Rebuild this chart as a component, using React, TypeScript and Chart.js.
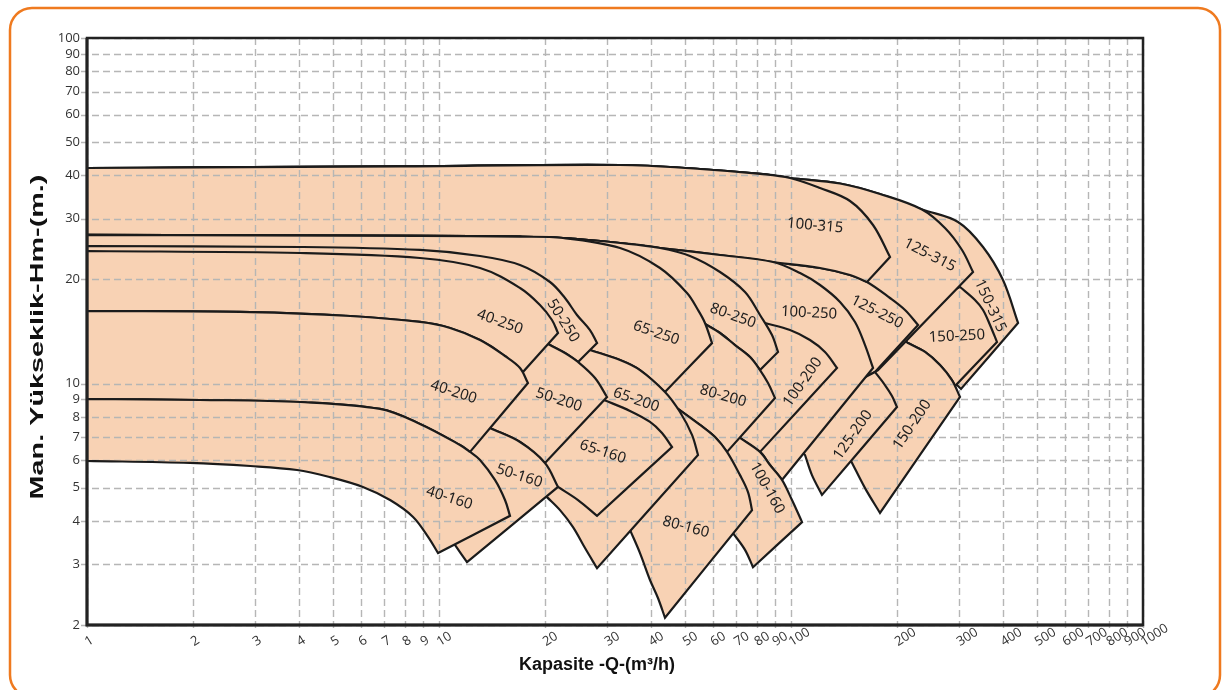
import React, { useEffect, useRef } from "react";
import { Chart, registerables } from "chart.js";

Chart.register(...registerables);

type P = [number, number];

// ---- axis ticks ----
const xTickValues = [1, 2, 3, 4, 5, 6, 7, 8, 9, 10, 20, 30, 40, 50, 60, 70, 80, 90, 100, 200, 300, 400, 500, 600, 700, 800, 900, 1000];
const yTickValues = [2, 3, 4, 5, 6, 7, 8, 9, 10, 20, 30, 40, 50, 60, 70, 80, 90, 100];
const xTitle = "Kapasite -Q-(m³/h)";
const yTitle = "Man. Yükseklik-Hm-(m.)";

// ---- shared curves [Q m3/h, H m] ----
const topH42: P[] = [[1, 42.05], [2.09, 42.2], [7.75, 42.5], [32.68, 42.9], [55.15, 41.77], [81.65, 40.41], [99.35, 39.34]];
const topH27: P[] = [[1, 26.91], [8.83, 26.73], [16.99, 26.6], [22.51, 26.37]];
const topH27mid: P[] = [[32.68, 25.51], [42.45, 24.67]];
const topH27far: P[] = [[62.85, 23.55], [88.89, 22.47]];

// ---- pump regions, each as pieces (curves joined by straight edges) ----
const r40_160: P[][] = [
  [[1, 9.02], [2.09, 8.96], [4.03, 8.84], [6.8, 8.44], [8.83, 7.64], [11.47, 6.64], [12.25, 6.34], [13.08, 6.01], [14.42, 5.26], [15.4, 4.6], [15.91, 4.14]],
  [[9.94, 3.23], [9.31, 3.6], [8.44, 4.11], [7.26, 4.6], [6.08, 5.02], [4.9, 5.36], [3.95, 5.62], [2.91, 5.77], [1.96, 5.89], [1, 5.97]],
];
const r40_200: P[][] = [
  [[1, 16.21], [2.91, 16.1], [5.59, 15.68], [8.83, 15.07], [10.75, 14.48], [13.08, 13.36], [15.4, 12.01], [16.99, 11.09], [17.89, 10.03]],
  [[12.25, 6.34], [11.47, 6.64], [8.83, 7.64], [6.8, 8.44], [4.03, 8.84], [2.09, 8.96], [1, 9.02]],
];
const r40_250: P[][] = [
  [[1, 24.18], [4.03, 23.86], [8.83, 23.08], [13.08, 21.59], [16.99, 18.9], [19.36, 16.88], [20.94, 15.27], [21.78, 14.0]],
  [[17.21, 10.72], [15.4, 12.01], [13.08, 13.36], [10.75, 14.48], [8.83, 15.07], [5.59, 15.68], [2.91, 16.1], [1, 16.21]],
];

const r50_160: P[][] = [
  [[1, 10.23]], [[8.83, 8.67]], [[12.25, 7.84]],
  [[13.96, 7.43], [16.99, 6.77], [20.0, 5.89], [21.78, 5.02]],
  [[12.01, 3.04], [11.1, 3.41]],
  [[9.43, 4.16]], [[4.9, 6.42]], [[1, 7.33]],
];
const r50_200: P[][] = [
  [[1, 18.65]], [[8.83, 17.45]], [[14.91, 15.47]], [[18.13, 13.81]],
  [[20.67, 12.92], [22.8, 12.25], [24.83, 11.54], [27.75, 10.37], [30.01, 9.14]],
  [[20.0, 5.89], [16.99, 6.77], [13.96, 7.43]],
  [[12.25, 7.84]], [[8.83, 8.67]], [[1, 10.23]],
];
const r50_250: P[][] = [
  [[1, 25.0], [4.03, 24.84], [8.83, 24.35], [13.08, 23.39], [16.99, 22.03], [20.67, 19.67], [22.8, 17.68], [24.66, 15.79], [26.85, 14.28], [28.12, 13.09]],
  [[24.83, 11.54], [22.8, 12.25], [20.67, 12.92]],
  [[18.13, 13.81]], [[14.91, 15.47]], [[8.83, 17.45]], [[1, 18.65]],
];

const r65_160: P[][] = [
  [[1, 10.94]], [[10.75, 9.9]], [[16.99, 9.26]], [[23.56, 9.08]],
  [[29.43, 8.96], [34.88, 8.33], [39.76, 7.74], [43.01, 7.19], [45.91, 6.55]],
  [[28.12, 4.14], [24.83, 4.6], [21.78, 5.02]],
  [[18.13, 5.62]], [[10.75, 7.33]], [[1, 9.58]],
];
const r65_200: P[][] = [
  [[1, 14.28]], [[10.75, 13.81]], [[22.07, 13.09]],
  [[26.85, 12.5], [32.68, 11.7], [37.24, 10.94], [43.85, 9.45], [48.38, 8.27], [52.33, 7.1], [54.43, 6.21]],
  [[28.12, 2.92], [25.99, 3.34], [24.03, 3.84], [22.07, 4.3], [20.27, 4.69]],
  [[16.99, 5.26]], [[10.75, 6.86]], [[1, 7.84]],
];
const r65_250: P[][] = [
  [...topH27, [32.68, 24.67], [42.45, 21.59], [50.64, 18.28], [54.43, 16.32], [56.96, 14.97], [59.65, 13.09]],
  [[43.85, 9.45], [37.24, 10.94], [32.68, 11.7], [26.85, 12.5]],
  [[22.07, 13.09]], [[10.75, 13.81]], [[1, 14.28]],
];

const r80_160: P[][] = [
  [[1, 8.96]], [[10.75, 8.38]], [[28.67, 8.96]], [[39.76, 9.26]],
  [[47.44, 8.49], [55.15, 7.59], [60.82, 7.0], [65.8, 6.34], [71.64, 5.43], [75.48, 4.85], [77.49, 4.3]],
  [[43.85, 2.1], [41.91, 2.39], [39.76, 2.7], [37.24, 3.23], [34.88, 3.77]],
  [[28.67, 5.26]], [[10.75, 7.33]], [[1, 7.84]],
];
const r80_200: P[][] = [
  [[1, 17.45]], [[10.75, 17.45]], [[28.67, 17.45]], [[48.38, 16.1]],
  [[56.96, 14.87], [62.85, 14.0], [69.33, 12.92], [76.48, 11.93], [81.65, 10.94], [86.04, 10.03], [90.06, 9.08]],
  [[65.8, 6.34], [60.82, 7.0], [55.15, 7.59], [47.44, 8.49]],
  [[39.76, 9.26]], [[28.67, 8.96]], [[10.75, 8.38]], [[1, 8.96]],
];
const r80_250: P[][] = [
  [...topH27, ...topH27mid, [51.65, 23.39], [62.85, 21.02], [74.02, 18.4], [81.65, 15.79], [88.31, 13.81], [91.85, 12.34]],
  [[81.65, 10.94], [76.48, 11.93], [69.33, 12.92], [62.85, 14.0], [56.96, 14.87]],
  [[48.38, 16.1]], [[28.67, 17.45]], [[10.75, 17.45]], [[1, 17.45]],
];

const r100_160: P[][] = [
  [[1, 7.59]], [[10.75, 7.59]], [[39.76, 6.86]], [[62.85, 7.0]],
  [[71.64, 6.96], [81.65, 6.34], [87.16, 5.81], [94.28, 5.26], [100.65, 4.6], [107.5, 3.97]],
  [[77.99, 2.94], [74.02, 3.3], [68.43, 3.69]],
  [[55.15, 4.6]], [[28.67, 5.62]], [[10.75, 6.86]], [[1, 6.86]],
];
const r100_200: P[][] = [
  [[1, 15.27]], [[10.75, 13.36]], [[39.76, 13.36]], [[71.64, 13.36]],
  [[84.36, 14.97], [99.35, 14.28], [113.2, 13.36], [124.9, 12.34], [135.1, 11.09]],
  [[81.65, 6.34], [71.64, 6.96]],
  [[62.85, 7.0]], [[39.76, 6.86]], [[10.75, 7.59]], [[1, 7.59]],
];
const r100_250: P[][] = [
  [...topH27, ...topH27mid, ...topH27far, [106.1, 20.88], [120.9, 19.28], [137.8, 17.22], [152.0, 15.07], [162.3, 12.92], [171.0, 11.09]],
  [[94.28, 5.26], [87.16, 5.81], [81.65, 6.34], [71.64, 6.96]],
  [[62.85, 7.0]], [[39.76, 6.86]], [[10.75, 7.59]], [[1, 7.59]],
];
const r100_315: P[][] = [
  [...topH42, [120.9, 36.8], [147.1, 33.75], [171.0, 28.76], [191.1, 23.23]],
  [[164.4, 19.67], [147.1, 20.61], [120.9, 21.59], [88.89, 22.47], [62.85, 23.55], [42.45, 24.67], [32.68, 25.51], [22.51, 26.37], [16.99, 26.6], [8.83, 26.73], [1, 26.91]],
];

const r125_200: P[][] = [
  [[1, 12.92]], [[10.75, 12.92]], [[39.76, 12.5]], [[81.65, 9.58]], [[147.1, 9.9]],
  [[173.2, 10.8], [184.9, 9.9], [193.6, 9.2], [200, 8.55]],
  [[122.5, 4.76], [114.7, 5.43], [109.6, 6.21]],
  [[93.07, 7.33]], [[55.15, 7.84]], [[10.75, 8.96]], [[1, 10.23]],
];
const r125_250: P[][] = [
  [...topH27, ...topH27mid, ...topH27far, [120.9, 21.59], [147.1, 20.61], [164.4, 19.67], [191.1, 17.68], [210.8, 16.32], [229.6, 14.77]],
  [[173.2, 10.8]], [[147.1, 9.9]], [[81.65, 9.58]], [[39.76, 12.5]], [[10.75, 12.92]], [[1, 12.92]],
];
const r125_315: P[][] = [
  [...topH42, [137.8, 37.92], [179, 35.36], [235.6, 31.89], [273.8, 28.19], [306.1, 24.35], [328.9, 21.02]],
  [[176.7, 10.94]], [[173.2, 10.8]], [[147.1, 9.9]], [[81.65, 9.58]], [[39.76, 12.5]], [[10.75, 12.92]], [[1, 12.92]],
];

const r150_200: P[][] = [
  [[1, 13.36]], [[10.75, 12.5]], [[39.76, 12.09]], [[106.1, 14.28]], [[191.1, 14.28]],
  [[215.0, 13.09], [240.3, 12.34], [265, 11.31], [286.6, 10.23], [302.1, 9.14]],
  [[179, 4.22], [162.3, 4.98], [149.1, 5.89]],
  [[137.8, 6.86]], [[81.65, 8.96]], [[10.75, 10.23]], [[1, 12.5]],
];
const r150_250: P[][] = [
  [[1, 15.27]], [[10.75, 15.27]], [[39.76, 15.27]], [[106.1, 17.45]], [[248.3, 17.45]],
  [[302.1, 19.03], [333.2, 17.45], [351.2, 16.32], [367.6, 14.77], [384.8, 13.18]],
  [[292.4, 9.83], [286.6, 10.23], [265, 11.31], [240.3, 12.34], [215.0, 13.09]],
  [[191.1, 14.28]], [[106.1, 14.28]], [[39.76, 12.09]], [[10.75, 12.5]], [[1, 13.36]],
];
const r150_315: P[][] = [
  [...topH42, [137.8, 37.92], [179, 35.36], [235.6, 31.89], [298.2, 29.34], [351.2, 24.84], [400.2, 19.93], [441.6, 14.97]],
  [[304.1, 9.64]],
  [[286.6, 10.23], [265, 11.31], [240.3, 12.34], [215.0, 13.09]],
  [[191.1, 14.28]], [[106.1, 14.28]], [[39.76, 12.09]], [[10.75, 12.5]], [[1, 13.36]],
];

// drawing order: first = on top
const regions: P[][][] = [
  r40_160, r40_200, r40_250,
  r50_160, r50_200, r50_250,
  r65_160, r65_200, r65_250,
  r80_160, r80_200, r80_250,
  r100_160, r100_200, r100_250, r100_315,
  r125_200, r125_250, r125_315,
  r150_200, r150_250, r150_315,
];

// ---- region labels ----
const labelNames = ["100-315", "125-315", "150-315", "40-250", "50-250", "65-250", "80-250", "100-250", "125-250", "150-250", "40-200", "50-200", "65-200", "80-200", "100-200", "125-200", "150-200", "40-160", "50-160", "65-160", "80-160", "100-160"];
const labelQ = [117, 248, 368, 14.9, 22.5, 41.4, 68.4, 112.5, 175.5, 296, 11.0, 21.9, 36.3, 64.1, 108, 150, 221, 10.7, 16.9, 29.2, 50.3, 85.5];
const labelH = [28.6, 23.55, 16.8, 15.07, 15.2, 14.0, 15.7, 16.0, 16.1, 13.7, 9.45, 8.96, 8.96, 9.2, 10.1, 7.1, 7.6, 4.66, 5.4, 6.34, 3.84, 4.98];
const labelAngle = [5, 27, 65, 20, 58, 19, 20, 3, 27, -3, 18, 18, 19, 16, -55, -55, -56, 18, 18, 18, 15, 61];

const FILL = "#F8D2B4";
const STROKE = "#1b1b1b";

// join pieces: each junction becomes a sharp corner (duplicated points)
function outline(pieces: P[][]) {
  const out: { x: number; y: number }[] = [];
  for (const piece of pieces) {
    const s = piece[0];
    const e = piece[piece.length - 1];
    out.push({ x: s[0], y: s[1] });
    for (const p of piece) out.push({ x: p[0], y: p[1] });
    out.push({ x: e[0], y: e[1] });
  }
  const f = pieces[0][0];
  out.push({ x: f[0], y: f[1] }, { x: f[0], y: f[1] });
  return out;
}

const overlay = {
  id: "overlay",
  beforeDraw(chart: any) {
    const ctx = chart.ctx;
    ctx.save();
    ctx.fillStyle = "#ffffff";
    ctx.fillRect(0, 0, chart.width, chart.height);
    ctx.strokeStyle = "#EF7A1F";
    ctx.lineWidth = 2.5;
    const x0 = 10, y0 = 8, x1 = 1220, y1 = 697, r = 22;
    ctx.beginPath();
    ctx.moveTo(x0 + r, y0);
    ctx.lineTo(x1 - r, y0);
    ctx.arcTo(x1, y0, x1, y0 + r, r);
    ctx.lineTo(x1, y1 - r);
    ctx.arcTo(x1, y1, x1 - r, y1, r);
    ctx.lineTo(x0 + r, y1);
    ctx.arcTo(x0, y1, x0, y1 - r, r);
    ctx.lineTo(x0, y0 + r);
    ctx.arcTo(x0, y0, x0 + r, y0, r);
    ctx.stroke();
    ctx.restore();
  },
  afterDatasetsDraw(chart: any) {
    const ctx = chart.ctx;
    const a = chart.chartArea;
    const xs = chart.scales.x;
    const ys = chart.scales.y;
    // grid drawn over the fills, only darkening
    ctx.save();
    ctx.globalCompositeOperation = "darken";
    ctx.strokeStyle = "#b6b6b6";
    ctx.lineWidth = 1.4;
    ctx.setLineDash([7, 4]);
    for (const v of xTickValues) {
      const px = Math.round(xs.getPixelForValue(v)) + 0.5;
      ctx.beginPath();
      ctx.moveTo(px, a.top);
      ctx.lineTo(px, a.bottom + 5);
      ctx.stroke();
    }
    for (const v of yTickValues) {
      const py = Math.round(ys.getPixelForValue(v)) + 0.5;
      ctx.beginPath();
      ctx.moveTo(a.left - 6, py);
      ctx.lineTo(a.right, py);
      ctx.stroke();
    }
    ctx.restore();

    // frame
    ctx.save();
    ctx.strokeStyle = "#222";
    ctx.lineWidth = 2.5;
    ctx.strokeRect(a.left, a.top, a.right - a.left, a.bottom - a.top);
    ctx.lineWidth = 3;
    ctx.beginPath();
    ctx.moveTo(a.left, a.top);
    ctx.lineTo(a.left, a.bottom);
    ctx.lineTo(a.right, a.bottom);
    ctx.stroke();
    ctx.restore();

    // region labels
    ctx.save();
    ctx.fillStyle = "#1e1e1e";
    ctx.font = "15px 'Noto Sans'";
    ctx.textAlign = "center";
    ctx.textBaseline = "middle";
    labelNames.forEach((t, i) => {
      const px = xs.getPixelForValue(labelQ[i]);
      const py = ys.getPixelForValue(labelH[i]);
      ctx.save();
      ctx.translate(px, py);
      ctx.rotate((labelAngle[i] * Math.PI) / 180);
      ctx.fillText(t, 0, 0);
      ctx.restore();
    });
    ctx.restore();

    // tick labels
    ctx.save();
    ctx.fillStyle = "#333";
    ctx.font = "13px 'Open Sans'";
    ctx.textAlign = "right";
    ctx.textBaseline = "middle";
    for (const v of yTickValues) {
      ctx.fillText(String(v), a.left - 7, ys.getPixelForValue(v));
    }
    ctx.textAlign = "left";
    for (const v of xTickValues) {
      const px = xs.getPixelForValue(v);
      ctx.save();
      ctx.translate(px - 1, a.bottom + 18);
      ctx.rotate((-32 * Math.PI) / 180);
      ctx.fillText(String(v), 0, 0);
      ctx.restore();
    }
    ctx.restore();

    // axis titles
    ctx.save();
    ctx.fillStyle = "#111";
    ctx.font = "bold 18px 'Liberation Sans', Arial, sans-serif";
    ctx.textAlign = "center";
    ctx.textBaseline = "middle";
    ctx.fillText(xTitle, 597, 665);
    ctx.translate(38, 337);
    ctx.rotate(-Math.PI / 2);
    ctx.scale(1.6, 1);
    ctx.fillText(yTitle, 0, 0);
    ctx.restore();
  },
};

export default function App() {
  const ref = useRef<HTMLCanvasElement | null>(null);
  useEffect(() => {
    document.body.style.margin = "0";
    const canvas = ref.current;
    if (!canvas) return;
    const datasets = regions.map((pieces) => ({
      data: outline(pieces),
      showLine: true,
      fill: "shape",
      backgroundColor: FILL,
      borderColor: STROKE,
      borderWidth: 2.2,
      borderJoinStyle: "miter" as const,
      pointRadius: 0,
      pointHoverRadius: 0,
      tension: 0.35,
    }));
    const chart = new Chart(canvas, {
      type: "scatter",
      data: { datasets: datasets as any },
      options: {
        animation: false,
        responsive: false,
        devicePixelRatio: 1,
        events: [],
        layout: { padding: { left: 87, top: 38, right: 81, bottom: 65 } },
        scales: {
          x: { type: "logarithmic", min: 1, max: 1000, display: false },
          y: { type: "logarithmic", min: 2, max: 100, display: false },
        },
        plugins: {
          legend: { display: false },
          tooltip: { enabled: false },
        },
      },
      plugins: [overlay],
    });
    return () => chart.destroy();
  }, []);
  return (
    <canvas
      ref={ref}
      width={1224}
      height={690}
      style={{ position: "absolute", left: 0, top: 0, width: 1224, height: 690 }}
    />
  );
}
